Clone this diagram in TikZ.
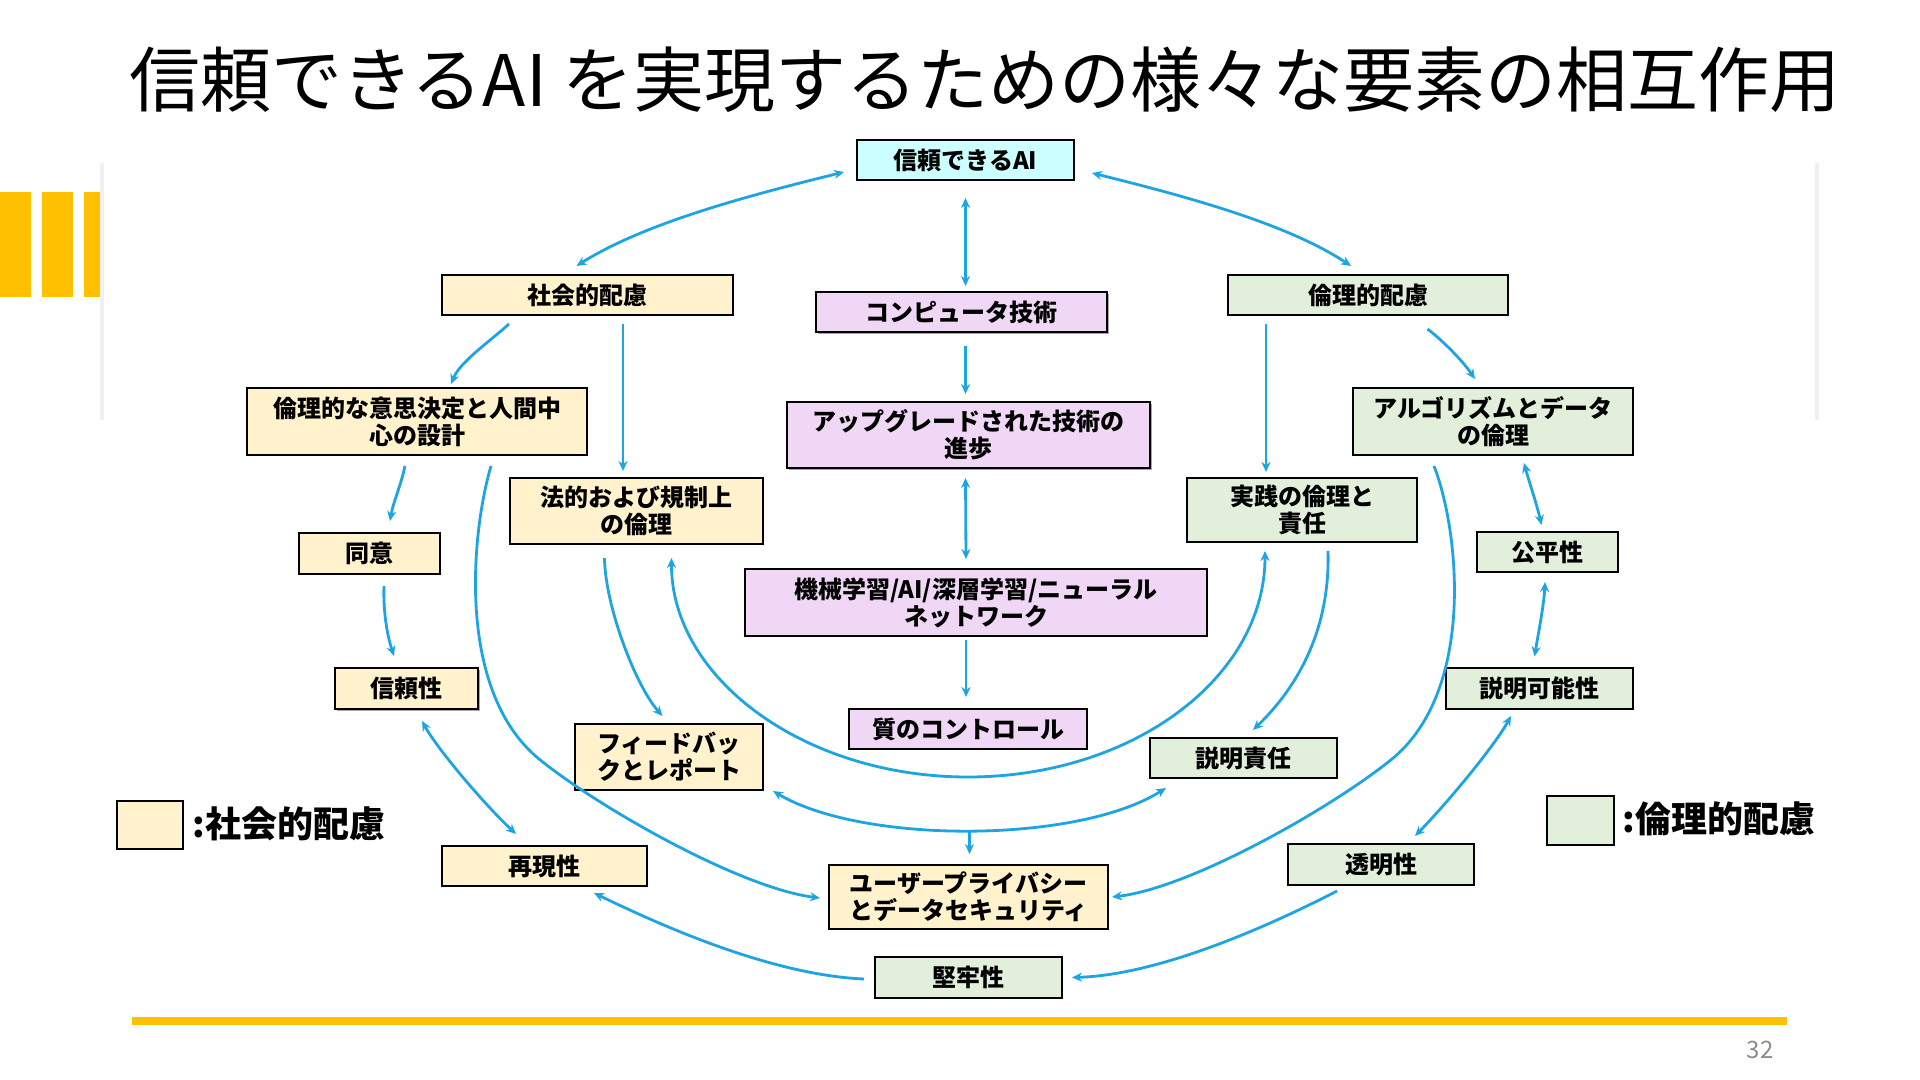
\documentclass[tikz,border=0pt]{standalone}
\usepackage{fontspec}
\setmainfont{Noto Sans CJK JP}
\usetikzlibrary{arrows.meta}
\usetikzlibrary{calc}
\usetikzlibrary{shadows}

\definecolor{arrowblue}{RGB}{30,165,225}
\definecolor{socfill}{RGB}{255,242,204}
\definecolor{ethfill}{RGB}{226,239,218}
\definecolor{techfill}{RGB}{239,215,245}
\definecolor{aifill}{RGB}{204,255,255}
\definecolor{barcol}{RGB}{255,192,0}

\tikzset{
  box/.style={draw=black, line width=1pt, align=center, inner sep=0pt,
    font=\bfseries\fontsize{12}{13.5}\selectfont},
  socbox/.style={box, fill=socfill},
  ethbox/.style={box, fill=ethfill},
  techbox/.style={box, fill=techfill},
  boxshadow/.style={drop shadow={shadow xshift=1.2pt, shadow yshift=-1.2pt, fill=black, opacity=0.35}},
  link/.style={draw=arrowblue, line width=1.4pt},
  >={Stealth[length=5pt,width=4.5pt]},
}

\begin{document}
\begin{tikzpicture}[x=0.5pt,y=-0.5pt]

  % page of 1920 x 1080 px
  \useasboundingbox (0,0) rectangle (1920,1080);
  \fill[white] (0,0) rectangle (1920,1080);

  % yellow bars at the left, and the edges of the picture panel
  \foreach \x in {0,42}{
    \fill[barcol] (\x,192) rectangle +(31,105);
  }
  \fill[barcol] (84,192) rectangle (100,297);
  \draw[black!6, line width=2pt] (102,163) -- (102,420);
  \draw[black!6, line width=2pt] (1817,163) -- (1817,420);

  % title
  \node[anchor=west, inner sep=0pt, font=\fontsize{35.5}{38}\selectfont] (title) at (129,80)
    {信頼できるAI を実現するための様々な要素の相互作用};

  % middle column
  \node[box, fill=aifill, minimum width=108.5pt, minimum height=20pt] (ai) at (965.5,160) {信頼できるAI};
  \node[techbox, boxshadow, minimum width=145.5pt, minimum height=20pt] (comp) at (961.5,312) {コンピュータ技術};
  \node[techbox, boxshadow, minimum width=181.5pt, minimum height=33pt] (upg) at (968.5,435) {アップグレードされた技術の\\進歩};
  \node[techbox, minimum width=231pt, minimum height=33.5pt] (ml) at (976,602.5) {機械学習/AI/深層学習/ニューラル\\ネットワーク};
  \node[techbox, minimum width=119pt, minimum height=20pt] (qc) at (968,729) {質のコントロール};
  \node[socbox, minimum width=139.5pt, minimum height=32pt] (priv) at (968.5,897) {ユーザープライバシー\\とデータセキュリティ};
  \node[ethbox, minimum width=93.5pt, minimum height=20.5pt] (rob) at (968.5,977.5) {堅牢性};

  % social side
  \node[socbox, minimum width=145.5pt, minimum height=20pt] (soc) at (587.5,295) {社会的配慮};
  \node[socbox, minimum width=170pt, minimum height=33.5pt] (dec) at (417,421.5) {倫理的な意思決定と人間中\\心の設計};
  \node[socbox, minimum width=126.5pt, minimum height=33pt] (law) at (636.5,511) {法的および規制上\\の倫理};
  \node[socbox, minimum width=70.5pt, minimum height=20.5pt] (cons) at (369.5,553.5) {同意};
  \node[socbox, boxshadow, minimum width=71.5pt, minimum height=20.5pt] (rel) at (406.5,688.5) {信頼性};
  \node[socbox, minimum width=94pt, minimum height=33pt] (fb) at (669,757) {フィードバッ\\クとレポート};
  \node[socbox, minimum width=102.5pt, minimum height=20pt] (rep) at (544.5,866) {再現性};

  % ethical side
  \node[ethbox, minimum width=140pt, minimum height=20pt] (eth) at (1368,295) {倫理的配慮};
  \node[ethbox, minimum width=140pt, minimum height=33.5pt] (algo) at (1493,421.5) {アルゴリズムとデータ\\の倫理};
  \node[ethbox, minimum width=115pt, minimum height=32pt] (prac) at (1302,510) {実践の倫理と\\責任};
  \node[ethbox, minimum width=70.5pt, minimum height=20pt] (fair) at (1547.5,552) {公平性};
  \node[ethbox, minimum width=93.5pt, minimum height=20.5pt] (expl) at (1539.5,688.5) {説明可能性};
  \node[ethbox, minimum width=93.5pt, minimum height=20pt] (acc) at (1243.5,758) {説明責任};
  \node[ethbox, minimum width=93pt, minimum height=20.5pt] (trans) at (1381,864.5) {透明性};

  % legend
  \node[socbox, line width=0.75pt, minimum width=33pt, minimum height=24pt] (legsoc) at (150,825) {};
  \node[anchor=west, inner sep=0pt, font=\bfseries\fontsize{18}{21}\selectfont] (legsoctext) at (192,824) {:社会的配慮};
  \node[ethbox, line width=0.75pt, minimum width=33.5pt, minimum height=24.5pt] (legeth) at (1580.5,820.5) {};
  \node[anchor=west, inner sep=0pt, font=\bfseries\fontsize{18}{21}\selectfont] (legethtext) at (1622,819) {:倫理的配慮};

  % top arcs
  \draw[link,<->] ($(ai.west)+(-12,12)$) .. controls (755,194) and (646,222) .. ($(soc.north)+(-11,-8)$);
  \draw[link,<->] ($(ai.east)+(17,13)$) .. controls (1176,194) and (1285,222) .. ($(eth.north)+(-17,-8)$);

  % middle column
  \draw[link,<->] ($(ai.south)+(0,17)$) -- ($(comp.north)+(4,-5)$);
  \draw[link,->] ($(comp.south)+(4,13)$) -- ($(upg.north)+(-3,-7)$);
  \draw[link,<->] ($(upg.south)+(-3,9)$) -- ($(ml.north)+(-10,-9)$);
  \draw[link,->] ($(ml.south)+(-10,3)$) -- ($(qc.north)+(-2,-11)$);

  % social side
  \draw[link,->] ($(soc.south)+(35.5,8)$) -- ($(law.north)+(-13.5,-6)$);
  \draw[link,->] ($(soc.south)+(-78.5,8)$) .. controls (489,342) and (460,362) .. ($(dec.north)+(34,-3)$);
  \draw[link,->] ($(dec.south)+(-12,10)$) .. controls (401,485) and (393,503) .. ($(cons.north)+(20.5,-11)$);
  \draw[link,->] ($(cons.south)+(14.5,11)$) .. controls (383,610) and (387,635) .. ($(rel.north)+(-12.5,-11)$);
  \draw[link,<->] ($(rel.south)+(15.5,11)$) .. controls (438,750) and (485,805) .. ($(rep.north)+(-28.5,-11)$);
  \draw[link,->] ($(law.south)+(-32,13)$) .. controls (605,605) and (635,685) .. ($(fb.north)+(-6.5,-7)$);

  % ethical side
  \draw[link,->] ($(eth.south)+(-102,8)$) -- ($(prac.north)+(-36,-5)$);
  \draw[link,->] ($(eth.south)+(59.5,13)$) .. controls (1442,340) and (1462,360) .. ($(algo.north)+(-18,-8)$);
  \draw[link,<->] ($(algo.south)+(31,7)$) .. controls (1530,485) and (1537,505) .. ($(fair.north)+(-6,-6)$);
  \draw[link,<->] ($(fair.south)+(-2.5,9)$) .. controls (1544,605) and (1538,635) .. ($(expl.north)+(-5,-10.5)$);
  \draw[link,<->] ($(expl.south)+(-28.5,6)$) .. controls (1495,745) and (1450,800) .. ($(trans.north)+(34,-7)$);
  \draw[link,->] ($(prac.south)+(26,8)$) .. controls (1330,620) and (1305,680) .. ($(acc.north)+(9.5,-7)$);

  % inner arcs
  \draw[link,<->] ($(law.south)+(35,13)$) .. controls (671,678) and (804,777) .. (968,777)
    .. controls (1132,777) and (1265,678) .. ($(prac.south)+(-37,8)$);
  \draw[link,<->] ($(fb.south east)+(9,0)$) .. controls (862,844) and (1077,844) .. ($(acc.south west)+(17,9)$)
    coordinate[pos=0.5] (fbmid);
  \draw[link,->,shorten >=5pt] (fbmid) -- (fbmid |- priv.north);

  % outer arcs
  \draw[link,->] ($(dec.south)+(74,10)$) .. controls (472,530) and (455,690) .. (539,759)
    .. controls (598,807) and (740,888) .. ($(priv.west)+(-8,1)$);
  \draw[link,->] ($(algo.south)+(-59,10)$) .. controls (1459,530) and (1476,690) .. (1392,759)
    .. controls (1333,807) and (1191,888) .. ($(priv.east)+(3,0)$);

  % bottom arcs
  \draw[link,->] ($(trans.south)+(-44,5)$) .. controls (1271,925) and (1160,975) .. ($(rob.east)+(9,0)$);
  \draw[link,->] ($(rob.west)+(-10,1.5)$) .. controls (771,975) and (660,925) .. ($(rep.south)+(49.5,6)$);

  % bottom rule and page number
  \draw[barcol, line width=4pt] (132,1021) -- (1787,1021);
  \node[text=black!45, font=\fontsize{12}{14}\selectfont] (pagenum) at (1760,1050) {32};

\end{tikzpicture}
\end{document}
